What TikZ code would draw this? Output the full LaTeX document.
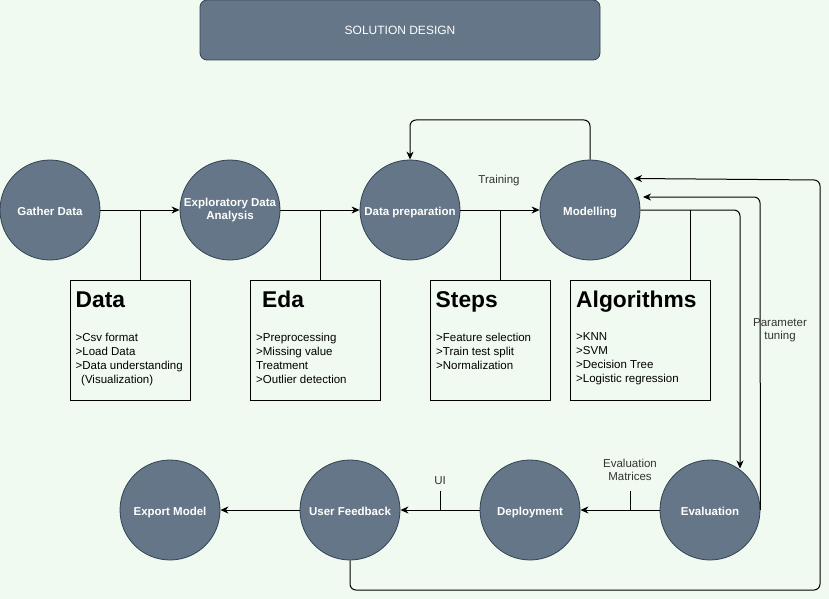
\documentclass[tikz,border=0pt]{standalone}
\usepackage{fontspec}
\setmainfont{Liberation Sans}
\usetikzlibrary{arrows.meta}
\definecolor{bgc}{HTML}{F1FAF0}
\definecolor{fillc}{HTML}{647687}
\definecolor{strokec}{HTML}{314354}
\definecolor{labc}{HTML}{333333}
\begin{document}
\begin{tikzpicture}[x=1pt,y=-1pt,
  circ/.style={circle,draw=strokec,fill=fillc,line width=0.8pt,minimum size=100pt,inner sep=0pt,
    text=white,font=\fontsize{11.5}{13}\selectfont\bfseries,align=center},
  circone/.style={circ,text height=10pt,text depth=0pt},
  infobox/.style={draw=black,line width=1pt,minimum width=#1,minimum height=120pt,inner sep=0pt,anchor=north west},
  head/.style={anchor=base west,inner sep=0pt,font=\fontsize{22.8}{24}\selectfont\bfseries},
  body/.style={anchor=north west,inner sep=0pt,align=left,font=\fontsize{11.5}{14}\selectfont},
  lab/.style={text=labc,inner sep=0pt,align=center,font=\fontsize{11.5}{13.5}\selectfont},
  conn/.style={draw=black,line width=1pt},
  arr/.style={conn,-{Stealth[length=8pt,width=7pt,inset=2.5pt]}},
  ]
\fill[bgc] (0,0) rectangle (829,599);
\useasboundingbox (0,0) rectangle (829,599);

% title
\node[draw=strokec,fill=fillc,line width=0.8pt,rounded corners=7pt,minimum width=400pt,minimum height=60pt,
  inner sep=0pt,text=white,font=\fontsize{12}{14}\selectfont,text height=10pt,text depth=0pt] (title) at (400,30) {SOLUTION DESIGN};

% circles
\node[circone] (gather) at (50,210) {Gather Data};
\node[circ] (eda) at (230,210) {Exploratory Data\\Analysis};
\node[circone] (prep) at (410,210) {Data preparation};
\node[circone] (model) at (590,210) {Modelling};
\node[circone] (export) at (170,510) {Export Model};
\node[circone] (feedback) at (350,510) {User Feedback};
\node[circone] (deploy) at (530,510) {Deployment};
\node[circone] (evalc) at (710,510) {Evaluation};

% boxes
\node[infobox=120pt] (databox) at (70,280) {};
\node[infobox=130pt] (edabox) at (250,280) {};
\node[infobox=120pt] (stepsbox) at (430,280) {};
\node[infobox=140pt] (algobox) at (570,280) {};

\node[head] (datah) at (75.5,307) {Data};
\node[head] (edah) at (262,307) {Eda};
\node[head] (stepsh) at (435.5,307) {Steps};
\node[head] (algoh) at (576,307) {Algorithms};

\node[body] (datab) at (75.5,332.5) {>Csv format\\>Load Data\\>Data understanding\\\hspace*{5.5pt}(Visualization)};
\node[body] (edab) at (256,332.5) {>Preprocessing\\>Missing value\\Treatment\\>Outlier detection};
\node[body] (stepsb) at (436,332.5) {>Feature selection\\>Train test split\\>Normalization};
\node[body] (algob) at (576,332.5) {>KNN\\>SVM\\>Decision Tree\\>Logistic regression};

% coordinates
\coordinate (j1) at (140,210);
\coordinate (j2) at (320,210);
\coordinate (j3) at (500,210);
\coordinate (j4) at (690,210);
\coordinate (j5) at (630,510);
\coordinate (j6) at (440,510);

% top row connectors
\draw[arr] (gather.east) -- (eda.west);
\draw[conn] (j1) -- (databox.north -| j1);
\draw[arr] (eda.east) -- (prep.west);
\draw[conn] (j2) -- (edabox.north -| j2);
\draw[arr] (prep.east) -- (model.west);
\draw[conn] (j3) -- (stepsbox.north -| j3);
\draw[conn] (j4) -- (algobox.north -| j4);
\node[lab] (training) at (499,181) {Training};

% modelling -> data preparation (loop on top)
\draw[arr,rounded corners=6pt] (model.north) -- (590,120) -- (410,120) -- (prep.north);

% modelling -> evaluation
\draw[arr,rounded corners=6pt] (model.east) -- (740,210) -- (740,468.5);

% evaluation -> modelling (parameter tuning)
\draw[arr,rounded corners=6pt] (evalc.east) -- (760,197) -- (643,197);
\node[lab] (ptune) at (780,330) {Parameter\\tuning};

% user feedback -> modelling
\draw[arr,rounded corners=6pt] (feedback.south) -- (350,590) -- (820,590) -- (820,180) -- (634,178.5);

% bottom row
\draw[arr] (evalc.west) -- (deploy.east);
\node[lab] (evalm) at (630,470) {Evaluation\\Matrices};
\draw[conn] (j5) -- (630,490.5);
\draw[arr] (deploy.west) -- (feedback.east);
\node[lab] (ui) at (440,481) {UI};
\draw[conn] (j6) -- (440,490.5);
\draw[arr] (feedback.west) -- (export.east);
\end{tikzpicture}
\end{document}
